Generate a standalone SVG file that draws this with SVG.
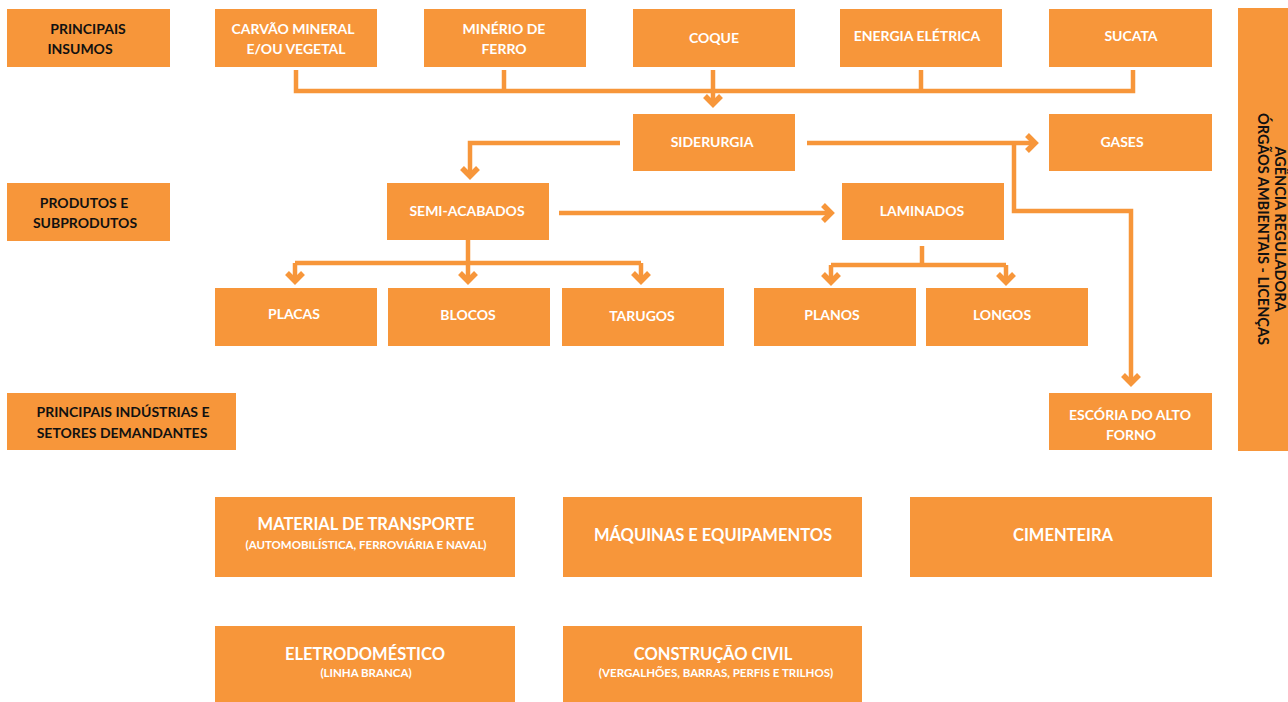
<svg xmlns="http://www.w3.org/2000/svg" width="1288" height="702" viewBox="0 0 1288 702">
<defs>
<style>
.b{fill:#F7963A}
.t{font-family:Lato,"Open Sans",sans-serif;font-weight:bold;font-size:14px;fill:#fff;text-anchor:middle}
.k{fill:#111}
.r{font-size:14.5px}
.big{font-size:16.5px}
.sm{font-size:11.5px}
.c{fill:none;stroke:#F7963A;stroke-width:4.5}
</style>
<marker id="ah" markerUnits="userSpaceOnUse" markerWidth="26" markerHeight="26" viewBox="-13 -13 26 26" refX="0" refY="0" orient="auto">
<path d="M-8,-8 L0,0 L-8,8" fill="none" stroke="#F7963A" stroke-width="5.5"/>
</marker>
</defs>
<rect width="1288" height="702" fill="#fff"/>

<g id="connectors" class="c">
<path d="M296,70 V91 H1133 V70"/>
<path d="M504,70 V91"/>
<path d="M921,70 V91"/>
<path d="M713,70 V104" marker-end="url(#ah)"/>
<path d="M620,143 H470 V176" marker-end="url(#ah)"/>
<path d="M807,143 H1035" marker-end="url(#ah)"/>
<path d="M1014,143 V211 H1131 V383" marker-end="url(#ah)"/>
<path d="M559,213 H831" marker-end="url(#ah)"/>
<path d="M468,240 V263"/>
<path d="M295,263 H641"/>
<path d="M295,263 V281" marker-end="url(#ah)"/>
<path d="M468,263 V281" marker-end="url(#ah)"/>
<path d="M641,263 V281" marker-end="url(#ah)"/>
<path d="M922,246 V265"/>
<path d="M831,265 H1006"/>
<path d="M831,265 V282" marker-end="url(#ah)"/>
<path d="M1006,265 V282" marker-end="url(#ah)"/>
</g>

<g id="principais-insumos"><rect class="b" x="7" y="9" width="163" height="58"/><text class="t k" x="88" y="34">PRINCIPAIS</text><text class="t k" x="80" y="54">INSUMOS</text></g>
<g id="carvao"><rect class="b" x="215" y="9" width="162" height="58"/><text class="t" x="293" y="34">CARVÃO MINERAL</text><text class="t" x="296" y="54">E/OU VEGETAL</text></g>
<g id="minerio"><rect class="b" x="424" y="9" width="162" height="58"/><text class="t" x="504" y="34">MINÉRIO DE</text><text class="t" x="504" y="54">FERRO</text></g>
<g id="coque"><rect class="b" x="633" y="9" width="162" height="58"/><text class="t" x="714" y="43">COQUE</text></g>
<g id="energia"><rect class="b" x="840" y="9" width="162" height="58"/><text class="t" x="917" y="41">ENERGIA ELÉTRICA</text></g>
<g id="sucata"><rect class="b" x="1049" y="9" width="163" height="58"/><text class="t" x="1131" y="41">SUCATA</text></g>

<g id="agencia"><rect class="b" x="1238" y="8" width="50" height="443"/>
<g transform="translate(1271,229) rotate(90)"><text class="t k r" x="0" y="-4">AGÊNCIA REGULADORA</text><text class="t k r" x="0" y="13">ÓRGÃOS AMBIENTAIS - LICENÇAS</text></g></g>

<g id="siderurgia"><rect class="b" x="633" y="114" width="162" height="57"/><text class="t" x="712" y="147">SIDERURGIA</text></g>
<g id="gases"><rect class="b" x="1049" y="114" width="163" height="57"/><text class="t" x="1122" y="147">GASES</text></g>

<g id="produtos"><rect class="b" x="7" y="183" width="163" height="58"/><text class="t k" x="84" y="208">PRODUTOS E</text><text class="t k" x="85" y="228">SUBPRODUTOS</text></g>
<g id="semi"><rect class="b" x="387" y="183" width="162" height="57"/><text class="t" x="467" y="216">SEMI-ACABADOS</text></g>
<g id="laminados"><rect class="b" x="842" y="183" width="162" height="57"/><text class="t" x="922" y="216">LAMINADOS</text></g>

<g id="placas"><rect class="b" x="215" y="288" width="162" height="58"/><text class="t" x="294" y="319">PLACAS</text></g>
<g id="blocos"><rect class="b" x="388" y="288" width="162" height="58"/><text class="t" x="468" y="320">BLOCOS</text></g>
<g id="tarugos"><rect class="b" x="562" y="288" width="162" height="58"/><text class="t" x="642" y="321">TARUGOS</text></g>
<g id="planos"><rect class="b" x="754" y="288" width="162" height="58"/><text class="t" x="832" y="320">PLANOS</text></g>
<g id="longos"><rect class="b" x="926" y="288" width="162" height="58"/><text class="t" x="1002" y="320">LONGOS</text></g>

<g id="principais-industrias"><rect class="b" x="7" y="393" width="229" height="57"/><text class="t k" x="123" y="417">PRINCIPAIS INDÚSTRIAS E</text><text class="t k" x="122" y="438">SETORES DEMANDANTES</text></g>
<g id="escoria"><rect class="b" x="1049" y="393" width="163" height="57"/><text class="t" x="1130" y="420">ESCÓRIA DO ALTO</text><text class="t" x="1131" y="440">FORNO</text></g>

<g id="material"><rect class="b" x="215" y="497" width="300" height="80"/><text class="t big" x="366" y="530">MATERIAL DE TRANSPORTE</text><text class="t sm" x="366" y="549">(AUTOMOBILÍSTICA, FERROVIÁRIA E NAVAL)</text></g>
<g id="maquinas"><rect class="b" x="563" y="497" width="299" height="80"/><text class="t big" x="713" y="541">MÁQUINAS E EQUIPAMENTOS</text></g>
<g id="cimenteira"><rect class="b" x="910" y="497" width="302" height="80"/><text class="t big" x="1063" y="541">CIMENTEIRA</text></g>
<g id="eletro"><rect class="b" x="215" y="626" width="300" height="76"/><text class="t big" x="365" y="660">ELETRODOMÉSTICO</text><text class="t sm" x="366" y="677">(LINHA BRANCA)</text></g>
<g id="construcao"><rect class="b" x="563" y="626" width="299" height="76"/><text class="t big" x="713" y="660">CONSTRUÇÃO CIVIL</text><text class="t sm" x="716" y="677">(VERGALHÕES, BARRAS, PERFIS E TRILHOS)</text></g>
</svg>
